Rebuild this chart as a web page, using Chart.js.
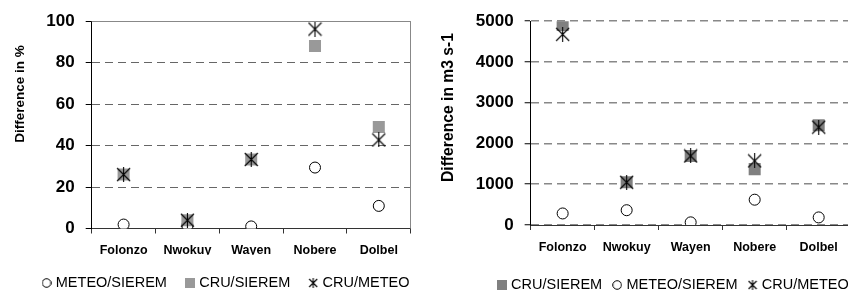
<!DOCTYPE html>
<html>
<head>
<meta charset="utf-8">
<script src="https://cdn.jsdelivr.net/npm/chart.js@4.4.0/dist/chart.umd.min.js"></script>
<style>
  html, body { margin: 0; padding: 0; background: #fff; }
  #wrap { position: relative; width: 848px; height: 293px; overflow: hidden; background: #fff; }
  #left { position: absolute; left: 0; top: 0; }
  #right { position: absolute; left: 424px; top: 0; }
</style>
</head>
<body>
<div id="wrap">
  <canvas id="left" width="440" height="293"></canvas>
  <canvas id="right" width="470" height="293"></canvas>
</div>
<script>
const stations = ['Folonzo', 'Nwokuy', 'Wayen', 'Nobere', 'Dolbel'];

// left panel, difference in %
const pctMeteoSierem = [1.9, 1.5, 1, 29.4, 10.9];
const pctCruSierem = [26, 4, 33.3, 88, 49];
const pctCruMeteo = [26, 4, 33.3, 96.2, 42.7];
const pctTicks = [0, 20, 40, 60, 80, 100];

// right panel, difference in m3 s-1
const flowCruSierem = [4910, 1048, 1694, 1371, 2450];
const flowMeteoSierem = [283, 363, 65, 621, 186];
const flowCruMeteo = [4677, 1048, 1694, 1573, 2400];
const flowTicks = [0, 1000, 2000, 3000, 4000, 5000];

const FONT = '"Liberation Sans", Arial, sans-serif';
Chart.defaults.font.family = FONT;
Chart.defaults.color = '#000';

// small canvases used as marker images (star points + legend icons)
function icon(kind, size, color) {
  const c = document.createElement('canvas');
  c.width = size; c.height = size;
  const g = c.getContext('2d');
  const m = size / 2;
  if (kind === 'circle') {
    g.beginPath();
    g.arc(m, m, m - 0.7, 0, Math.PI * 2);
    g.fillStyle = '#fff'; g.fill();
    g.strokeStyle = '#000'; g.lineWidth = 1; g.stroke();
  } else if (kind === 'square') {
    g.fillStyle = color;
    g.fillRect(0, 0, size, size);
  } else {
    g.strokeStyle = '#000'; g.lineWidth = 1.1;
    g.beginPath();
    g.moveTo(1, 1); g.lineTo(size - 1, size - 1);
    g.moveTo(size - 1, 1); g.lineTo(1, size - 1);
    g.moveTo(m, 0); g.lineTo(m, size);
    g.stroke();
  }
  return c;
}

const starPoint = icon('star', 15);

const sideTitle = {
  id: 'sideTitle',
  afterDraw(chart, args, opts) {
    const ctx = chart.ctx;
    ctx.save();
    ctx.translate(opts.x, opts.y);
    ctx.rotate(-Math.PI / 2);
    ctx.font = 'bold ' + opts.size + 'px ' + FONT;
    ctx.fillStyle = '#000';
    ctx.textAlign = 'center';
    ctx.textBaseline = 'middle';
    ctx.fillText(opts.text, 0, 0);
    ctx.restore();
  }
};

// grey frame on top and right of the plot (left panel only)
const plotFrame = {
  id: 'plotFrame',
  beforeDatasetsDraw(chart, args, opts) {
    if (!opts.color) return;
    const { left, top, right, bottom } = chart.chartArea;
    const ctx = chart.ctx;
    const t = Math.round(top) + 0.5, r = Math.round(right) - 0.5;
    ctx.save();
    ctx.strokeStyle = opts.color;
    ctx.lineWidth = 1;
    ctx.beginPath();
    ctx.moveTo(left, t); ctx.lineTo(r, t); ctx.lineTo(r, bottom);
    ctx.stroke();
    ctx.restore();
  }
};

function circleSet(label, data) {
  return { label, data, showLine: false, order: 2, pointStyle: 'circle', pointRadius: 5.5,
    pointBackgroundColor: '#fff', pointBorderColor: '#000', pointBorderWidth: 1 };
}
function squareSet(label, data, color) {
  return { label, data, showLine: false, order: 1, pointStyle: 'rect', pointRadius: 8.5,
    pointBackgroundColor: color, pointBorderColor: color, pointBorderWidth: 0 };
}
function starSet(label, data) {
  return { label, data, showLine: false, order: 0, pointStyle: starPoint, pointRadius: 7 };
}

function panel(id, p) {
  return new Chart(document.getElementById(id), {
    type: 'line',
    data: { labels: stations, datasets: p.datasets },
    options: {
      responsive: false,
      animation: false,
      layout: { padding: { left: p.padLeft, right: p.padRight, top: p.padTop, bottom: p.padBottom } },
      plugins: {
        legend: {
          position: 'bottom',
          labels: {
            usePointStyle: true,
            pointStyleWidth: 4,
            padding: p.legendGap,
            color: '#000',
            font: { size: 14.5 },
            generateLabels: chart => Chart.defaults.plugins.legend.labels.generateLabels(chart)
              .sort((a, b) => a.datasetIndex - b.datasetIndex)
              .map(item => Object.assign(item, { pointStyle: p.legendIcons[item.datasetIndex] }))
          }
        },
        tooltip: { enabled: false },
        sideTitle: p.title,
        plotFrame: { color: p.frame }
      },
      scales: {
        x: {
          type: 'category',
          offset: true,
          grid: { offset: true, drawOnChartArea: false, tickLength: 5, color: '#333' },
          border: { color: '#333', width: 1 },
          ticks: { font: { size: 12.5, weight: 'bold' }, padding: p.xPad, color: '#000' },
          afterFit: s => { s.height = p.xHeight; }
        },
        y: {
          min: p.ticks[0],
          max: p.ticks[p.ticks.length - 1],
          ticks: { stepSize: p.ticks[1] - p.ticks[0], font: { size: 17, weight: 'bold' }, padding: 11,
            color: '#000', callback: v => String(v) },
          grid: { color: p.gridColor, lineWidth: p.gridWidth, tickLength: 6,
            tickColor: '#000', tickWidth: 1, tickBorderDash: [] },
          border: { color: '#000', width: 1, dash: [8, 5] },
          afterFit: s => { s.width = p.yWidth; }
        },
        // empty right-hand axis: keeps the plot narrower than the legend row
        yGap: {
          position: 'right',
          grid: { display: false },
          border: { display: false },
          ticks: { display: false },
          afterFit: s => { s.width = p.rightGap; }
        }
      }
    },
    plugins: [sideTitle, plotFrame]
  });
}

const circleIcon = icon('circle', 10);
const starIcon = icon('star', 10);

panel('left', {
  datasets: [
    circleSet('METEO/SIEREM', pctMeteoSierem),
    squareSet('CRU/SIEREM', pctCruSierem, '#999999'),
    starSet('CRU/METEO', pctCruMeteo)
  ],
  legendIcons: [circleIcon, icon('square', 10, '#999999'), starIcon],
  legendGap: 21,
  ticks: pctTicks,
  padLeft: 20, yWidth: 71.7, padRight: 6, rightGap: 23.3,
  padTop: 15, padBottom: -7.25, xHeight: 26.25, xPad: 9.5,
  gridColor: '#666', gridWidth: 1, frame: '#888',
  title: { text: 'Difference in %', x: 20, y: 94, size: 13.5 }
});

panel('right', {
  datasets: [
    squareSet('CRU/SIEREM', flowCruSierem, '#808080'),
    circleSet('METEO/SIEREM', flowMeteoSierem),
    starSet('CRU/METEO', flowCruMeteo)
  ],
  legendIcons: [icon('square', 10, '#808080'), circleIcon, starIcon],
  legendGap: 13,
  ticks: flowTicks,
  padLeft: 30.65, yWidth: 76, padRight: 0, rightGap: 43.3,
  padTop: 18.3, padBottom: -9.25, xHeight: 39.75, xPad: 10,
  gridColor: '#888', gridWidth: 1.5, frame: null,
  title: { text: 'Difference in m3 s-1', x: 25, y: 107.5, size: 15.7 }
});
</script>
</body>
</html>
